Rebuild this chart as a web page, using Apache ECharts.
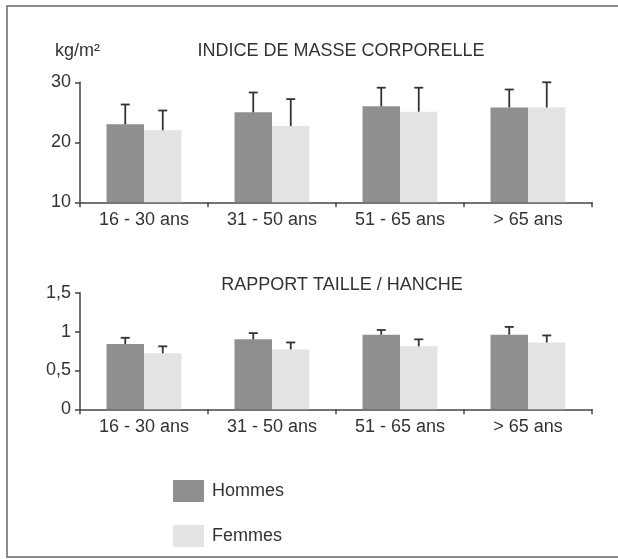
<!DOCTYPE html>
<html>
<head>
<meta charset="utf-8">
<script src="https://cdn.jsdelivr.net/npm/echarts@6/dist/echarts.min.js"></script>
<style>
html,body{margin:0;padding:0;background:#fff;}
#chart{width:618px;height:559px;}
</style>
</head>
<body>
<div id="chart"></div>
<script>
var categories = ['16 - 30 ans', '31 - 50 ans', '51 - 65 ans', '> 65 ans'];
var imcHommes = [23, 25, 26, 25.8];
var imcHommesErr = [26.3, 28.3, 29.1, 28.8];
var imcFemmes = [22, 22.7, 25.1, 25.8];
var imcFemmesErr = [25.3, 27.2, 29.1, 30];
var rthHommes = [0.84, 0.90, 0.96, 0.96];
var rthHommesErr = [0.92, 0.98, 1.02, 1.06];
var rthFemmes = [0.72, 0.77, 0.81, 0.86];
var rthFemmesErr = [0.81, 0.86, 0.90, 0.95];
var imcTicks = [10, 20, 30];
var rthTicks = [0, 0.5, 1, 1.5];

var FONT = "'Liberation Sans', Arial, sans-serif";
var TXT = '#333';
var AX = '#444';
var C_H = '#8f8f8f';
var C_F = '#e3e3e3';
var BW = 37.5;

function errData(vals, errs) {
  return vals.map(function (v, i) { return [i, v, errs[i]]; });
}
function errSeries(name, xi, yi, vals, errs, offset) {
  return {
    type: 'custom', name: name, xAxisIndex: xi, yAxisIndex: yi, z: 5,
    data: errData(vals, errs),
    renderItem: function (params, api) {
      var base = api.coord([api.value(0), api.value(1)]);
      var top = api.coord([api.value(0), api.value(2)]);
      var x = base[0] + offset;
      var st = { stroke: '#333', lineWidth: 1.8 };
      return {
        type: 'group',
        children: [
          { type: 'line', shape: { x1: x, y1: base[1], x2: x, y2: top[1] }, style: st },
          { type: 'line', shape: { x1: x - 4.5, y1: top[1], x2: x + 4.5, y2: top[1] }, style: st }
        ]
      };
    }
  };
}
function xAxis(gi) {
  return {
    type: 'category', gridIndex: gi, data: categories,
    axisLine: { lineStyle: { color: AX, width: 1.5 } },
    axisTick: { show: true, length: 5, lineStyle: { color: AX, width: 1.5 } },
    axisLabel: { fontFamily: FONT, fontSize: 18, color: TXT, margin: 9 }
  };
}
function yAxis(gi, min, max, interval) {
  return {
    type: 'value', gridIndex: gi, min: min, max: max, interval: interval,
    splitLine: { show: false },
    axisLine: { show: true, lineStyle: { color: AX, width: 1.5 } },
    axisTick: { show: true, length: 5, lineStyle: { color: AX, width: 1.5 } },
    axisLabel: {
      fontFamily: FONT, fontSize: 18, color: TXT, margin: 9,
      formatter: function (v) { return String(v).replace('.', ','); }
    }
  };
}
function bar(name, xi, yi, data, color) {
  return {
    type: 'bar', name: name, xAxisIndex: xi, yAxisIndex: yi, data: data,
    barWidth: BW, barGap: '0%', itemStyle: { color: color }
  };
}

var chart = echarts.init(document.getElementById('chart'), null, { renderer: 'canvas' });
chart.setOption({
  animation: false,
  backgroundColor: '#fff',
  textStyle: { fontFamily: FONT },
  title: [
    { text: 'INDICE DE MASSE CORPORELLE', left: 336, top: 37, textAlign: 'center',
      textStyle: { fontFamily: FONT, fontSize: 18, fontWeight: 'normal', color: TXT } },
    { text: 'RAPPORT TAILLE / HANCHE', left: 337, top: 271, textAlign: 'center',
      textStyle: { fontFamily: FONT, fontSize: 18, fontWeight: 'normal', color: TXT } }
  ],
  legend: {
    data: ['Hommes', 'Femmes'], orient: 'vertical', left: 173, top: 480,
    itemWidth: 31, itemHeight: 22, itemGap: 23, icon: 'rect', padding: 0,
    textStyle: { fontFamily: FONT, fontSize: 18, color: TXT, padding: [0, 0, 0, 3] }
  },
  grid: [
    { left: 80, right: 26, top: 82.3, height: 120 },
    { left: 80, right: 26, top: 292.7, height: 116.6 }
  ],
  xAxis: [xAxis(0), xAxis(1)],
  yAxis: [yAxis(0, imcTicks[0], imcTicks[imcTicks.length - 1], 10),
          yAxis(1, rthTicks[0], rthTicks[rthTicks.length - 1], 0.5)],
  graphic: [
    { type: 'text', left: 55, top: 42, style: { text: 'kg/m²', font: '18px ' + FONT, fill: TXT } },
    { type: 'rect', shape: { x: 7, y: 6, width: 620, height: 551 },
      style: { fill: 'none', stroke: '#666', lineWidth: 1.5 }, silent: true }
  ],
  series: [
    bar('Hommes', 0, 0, imcHommes, C_H),
    bar('Femmes', 0, 0, imcFemmes, C_F),
    bar('Hommes', 1, 1, rthHommes, C_H),
    bar('Femmes', 1, 1, rthFemmes, C_F),
    errSeries('eH1', 0, 0, imcHommes, imcHommesErr, -BW / 2),
    errSeries('eF1', 0, 0, imcFemmes, imcFemmesErr, BW / 2),
    errSeries('eH2', 1, 1, rthHommes, rthHommesErr, -BW / 2),
    errSeries('eF2', 1, 1, rthFemmes, rthFemmesErr, BW / 2)
  ]
});
</script>
</body>
</html>
